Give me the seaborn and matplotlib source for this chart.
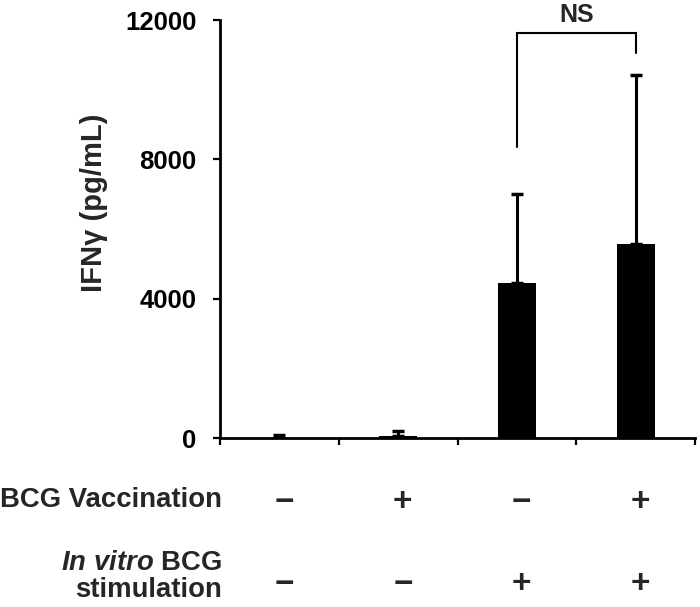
import numpy as np
import pandas as pd
import matplotlib
matplotlib.use("Agg")
import matplotlib.pyplot as plt
import matplotlib.transforms as mtransforms
import seaborn as sns

# ---- data ----
groups = ["G1", "G2", "G3", "G4"]
vaccination = ["−", "+", "−", "+"]
stimulation = ["−", "−", "+", "+"]
ifng_mean = [10, 70, 4450, 5570]
ifng_err = [80, 130, 2555, 4850]
yticks = [0, 4000, 8000, 12000]
sig_label = "NS"
ylabel = "IFNγ (pg/mL)"

sns.set_theme(style="ticks")
plt.rcParams["font.family"] = ["Liberation Sans", "DejaVu Sans"]
plt.rcParams["font.weight"] = "bold"
plt.rcParams["mathtext.fontset"] = "custom"
plt.rcParams["mathtext.it"] = "Liberation Sans:italic:bold"
plt.rcParams["mathtext.rm"] = "Liberation Sans:bold"

df = pd.DataFrame({"group": groups, "value": ifng_mean, "err": ifng_err})

W, H = 700, 607
fig = plt.figure(figsize=(W / 100, H / 100), dpi=100)
ax = fig.add_axes([220 / W, 1 - 438 / H, (695 - 220) / W, (438 - 20) / H])

sns.barplot(data=df, x="group", y="value", color="black", width=0.32,
            errorbar=None, saturation=1, ax=ax, edgecolor="black", linewidth=0)
xs = np.arange(len(groups))
ax.errorbar(xs, df["value"], yerr=[np.zeros(len(groups)), df["err"]],
            fmt="none", ecolor="black", elinewidth=2.2, capsize=4.5,
            capthick=2.5, zorder=3)

ax.set_xlim(-0.5, len(groups) - 0.5)
ax.set_ylim(0, 12000)
ax.set_yticks(yticks)
ax.set_yticklabels([str(t) for t in yticks], fontsize=18.5, fontweight="bold")
ax.set_xticks(np.arange(len(groups) + 1) - 0.5)
ax.set_xticklabels([])
ax.tick_params(axis="y", direction="out", length=5, width=1.6, pad=12, colors="black")
ax.tick_params(axis="x", direction="out", length=5, width=1.6, colors="black")
ax.set_xlabel("")
ax.set_ylabel(ylabel, fontsize=21, fontweight="bold")
for s in ["top", "right"]:
    ax.spines[s].set_visible(False)
for s in ["left", "bottom"]:
    ax.spines[s].set_linewidth(2.0)
    ax.spines[s].set_color("black")
ax.yaxis.set_label_coords(-0.236, 0.562)

# significance bracket
y_br = 11630
ax.plot([2, 2, 3, 3], [8350, y_br, y_br, 11050], color="black", lw=1.5,
        clip_on=False, solid_joinstyle="miter")
ax.text(2.5, 12150, sig_label, ha="center", va="center", fontsize=18,
        fontweight="bold", clip_on=False)

# condition rows
trans = mtransforms.blended_transform_factory(ax.transData, fig.transFigure)
for i in range(len(groups)):
    ax.text(xs[i] + 0.04, 1 - 503 / H, vaccination[i], transform=trans, ha="center",
            va="center", fontsize=24, fontweight="bold")
    ax.text(xs[i] + 0.04, 1 - 584 / H, stimulation[i], transform=trans, ha="center",
            va="center", fontsize=24, fontweight="bold")

fig.text(222 / W, 1 - 507 / H, "BCG Vaccination", ha="right", va="baseline",
         fontsize=19.8, fontweight="bold")
fig.text(222 / W, 1 - 570 / H, r"$\it{In\ vitro}$ BCG", ha="right", va="baseline",
         fontsize=19.8, fontweight="bold")
fig.text(222 / W, 1 - 597 / H, "stimulation", ha="right", va="baseline",
         fontsize=19.8, fontweight="bold")

fig.savefig("out.png", dpi=100, facecolor="white")
